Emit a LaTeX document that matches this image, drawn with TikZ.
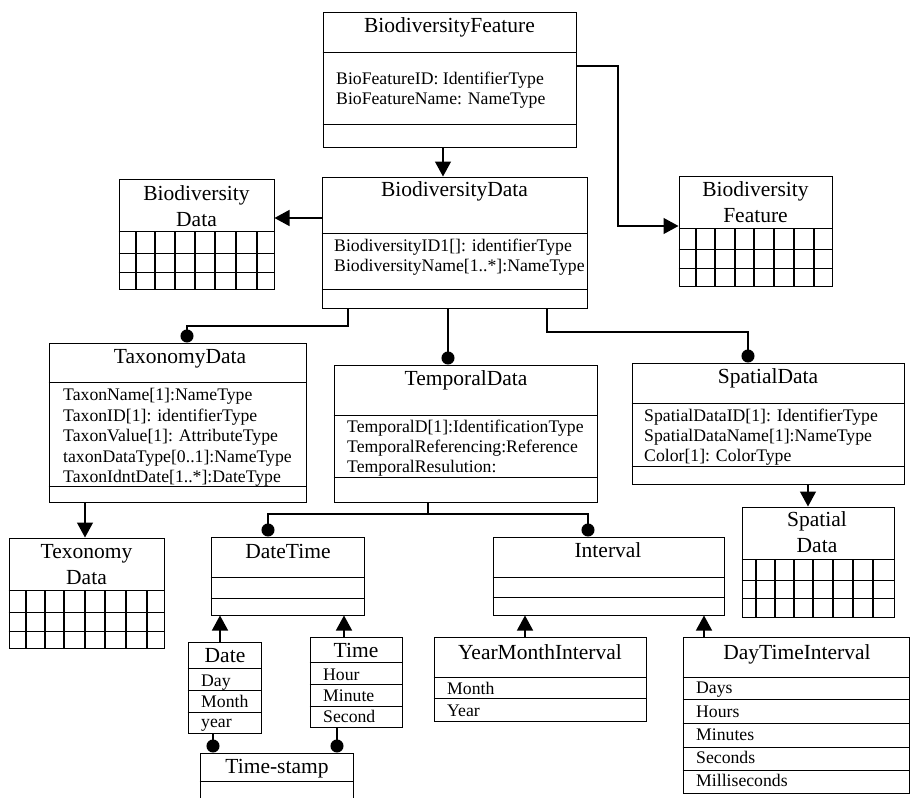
\documentclass[tikz,border=0pt]{standalone}
\usepackage{fontspec}
\setmainfont{Liberation Serif}
\usetikzlibrary{arrows.meta, fit}

\tikzset{
  cls/.style={draw, line width=1pt, inner sep=0pt},
  clsname/.style={font=\fontsize{21.5}{26}\selectfont, anchor=base, inner sep=0pt, align=center},
  clsattr/.style={font=\fontsize{17.7}{20.5}\selectfont, anchor=base west, inner sep=0pt},
  divline/.style={line width=1pt},
  tabline/.style={line width=1.6pt},
  arr/.style={line width=1.3pt, -{Triangle[length=15pt,width=16pt]}},
  dot/.style={line width=1.3pt, -{Circle[length=13pt]}}
}

\begin{document}
\begin{tikzpicture}[x=1pt, y=-1pt]
\useasboundingbox (0,0) rectangle (911,798);
\clip (0,0) rectangle (911,798);

% class boxes
\node[cls, fit={(323,12) (576,147)}] (bf) {};
\node[cls, fit={(322,177) (587,308)}] (bd) {};
\node[cls, fit={(49,343) (306,502)}] (tax) {};
\node[cls, fit={(334,365) (597,502)}] (temp) {};
\node[cls, fit={(632,363) (904,484)}] (spat) {};
\node[cls, fit={(211,537) (364,615)}] (dt) {};
\node[cls, fit={(493,537) (724,615)}] (iv) {};
\node[cls, fit={(188,642) (261,733)}] (date) {};
\node[cls, fit={(310,637) (402,727)}] (time) {};
\node[cls, fit={(200,753) (353,812)}] (ts) {};
\node[cls, fit={(434,637) (646,721)}] (ym) {};
\node[cls, fit={(683,637) (909,793)}] (dti) {};
\foreach \y in {52,124} \draw[divline] (bf.west |- 0,\y) -- (bf.east |- 0,\y);
\foreach \y in {233,289} \draw[divline] (bd.west |- 0,\y) -- (bd.east |- 0,\y);
\foreach \y in {382,486} \draw[divline] (tax.west |- 0,\y) -- (tax.east |- 0,\y);
\foreach \y in {415,477} \draw[divline] (temp.west |- 0,\y) -- (temp.east |- 0,\y);
\foreach \y in {403,466} \draw[divline] (spat.west |- 0,\y) -- (spat.east |- 0,\y);
\foreach \y in {577,598} \draw[divline] (dt.west |- 0,\y) -- (dt.east |- 0,\y);
\foreach \y in {577,597} \draw[divline] (iv.west |- 0,\y) -- (iv.east |- 0,\y);
\foreach \y in {668,690,712} \draw[divline] (date.west |- 0,\y) -- (date.east |- 0,\y);
\foreach \y in {662,684,706} \draw[divline] (time.west |- 0,\y) -- (time.east |- 0,\y);
\draw[divline] (ts.west |- 0,781) -- (ts.east |- 0,781);
\foreach \y in {677,698} \draw[divline] (ym.west |- 0,\y) -- (ym.east |- 0,\y);
\foreach \y in {677,699,723,747,770} \draw[divline] (dti.west |- 0,\y) -- (dti.east |- 0,\y);

% tables
\node[cls, fit={(119,179) (274,289)}] (bdtab) {};
\node[cls, fit={(679,176) (832,286)}] (bftab) {};
\node[cls, fit={(9,538) (164,648)}] (texo) {};
\node[cls, fit={(742,507) (894,617)}] (spattab) {};
\foreach \y in {231,253,272} \draw[divline] (bdtab.west |- 0,\y) -- (bdtab.east |- 0,\y);
\foreach \x in {136,155,175,195,215,236,257} \draw[tabline] (\x,231) -- (\x,0 |- bdtab.south);
\foreach \y in {228,249,268} \draw[divline] (bftab.west |- 0,\y) -- (bftab.east |- 0,\y);
\foreach \x in {696,715,735,754,774,794,814} \draw[tabline] (\x,228) -- (\x,0 |- bftab.south);
\foreach \y in {590,612,631} \draw[divline] (texo.west |- 0,\y) -- (texo.east |- 0,\y);
\foreach \x in {26,45,64,85,105,126,147} \draw[tabline] (\x,590) -- (\x,0 |- texo.south);
\foreach \y in {559,580,598} \draw[divline] (spattab.west |- 0,\y) -- (spattab.east |- 0,\y);
\foreach \x in {756,775,794,813,833,853,873} \draw[tabline] (\x,559) -- (\x,0 |- spattab.south);

% texts
\node[clsname] (bfname) at (449.5,32) {BiodiversityFeature};
\node[clsattr] (bfid) at (336,84) {BioFeatureID: IdentifierType};
\node[clsattr] (bfnm) at (336,104) {BioFeatureName: NameType};
\node[clsname] (bdname) at (454.5,196) {BiodiversityData};
\node[clsattr] (bdid) at (334,251) {BiodiversityID1[]: identifierType};
\node[clsattr] (bdnm) at (334,271) {BiodiversityName[1..*]:NameType};
\node[clsname] (bdtabname) at (196.5,226) {Biodiversity\\Data};
\node[clsname] (bftabname) at (755.5,222) {Biodiversity\\Feature};
\node[clsname] (taxname) at (180,363) {TaxonomyData};
\node[clsattr] (tax1) at (63,400) {TaxonName[1]:NameType};
\node[clsattr] (tax2) at (63,421) {TaxonID[1]: identifierType};
\node[clsattr] (tax3) at (63,441) {TaxonValue[1]: AttributeType};
\node[clsattr] (tax4) at (63,462) {taxonDataType[0..1]:NameType};
\node[clsattr] (tax5) at (63,482) {TaxonIdntDate[1..*]:DateType};
\node[clsname] (tempname) at (466,385) {TemporalData};
\node[clsattr] (temp1) at (347,432) {TemporalD[1]:IdentificationType};
\node[clsattr] (temp2) at (347,452) {TemporalReferencing:Reference};
\node[clsattr] (temp3) at (347,472) {TemporalResulution:};
\node[clsname] (spatname) at (768,383) {SpatialData};
\node[clsattr] (spat1) at (644,421) {SpatialDataID[1]: IdentifierType};
\node[clsattr] (spat2) at (644,441) {SpatialDataName[1]:NameType};
\node[clsattr] (spat3) at (644,461) {Color[1]: ColorType};
\node[clsname] (texoname) at (86.5,584) {Texonomy\\Data};
\node[clsname] (spattabname) at (817,552) {Spatial\\Data};
\node[clsname] (dtname) at (288,558) {DateTime};
\node[clsname] (ivname) at (608,557) {Interval};
\node[clsname] (datename) at (225,662) {Date};
\node[clsattr] (date1) at (201,686) {Day};
\node[clsattr] (date2) at (201,707) {Month};
\node[clsattr] (date3) at (201,727) {year};
\node[clsname] (timename) at (356,657) {Time};
\node[clsattr] (time1) at (323,680) {Hour};
\node[clsattr] (time2) at (323,701) {Minute};
\node[clsattr] (time3) at (323,722) {Second};
\node[clsname] (tsname) at (277,773) {Time-stamp};
\node[clsname] (ymname) at (540,659) {YearMonthInterval};
\node[clsattr] (ym1) at (447,694) {Month};
\node[clsattr] (ym2) at (447,716) {Year};
\node[clsname] (dtiname) at (797,659) {DayTimeInterval};
\node[clsattr] (dti1) at (696,693) {Days};
\node[clsattr] (dti2) at (696,717) {Hours};
\node[clsattr] (dti3) at (696,740) {Minutes};
\node[clsattr] (dti4) at (696,763) {Seconds};
\node[clsattr] (dti5) at (696,786) {Milliseconds};

% connectors
\draw[arr] (bf.south -| 443,0) -- (bd.north -| 443,0);
\draw[arr] (bd.west |- 0,218) -- (bdtab.east |- 0,218);
\draw[arr] (bf.east |- 0,66) -| (618,140) |- (bftab.west |- 0,226);
\draw[dot] (bd.south -| 348,0) |- (187,326) -- (tax.north -| 187,0);
\draw[dot] (bd.south -| 448,0) -- (temp.north -| 448,0);
\draw[dot] (bd.south -| 547,0) |- (748,332) -- (spat.north -| 748,0);
\draw[arr] (tax.south -| 85,0) -- (texo.north -| 85,0);
\draw[arr] (spat.south -| 808,0) -- (spattab.north -| 808,0);
\draw[dot] (temp.south -| 428,0) |- (268,514) -- (dt.north -| 268,0);
\draw[dot] (temp.south -| 428,0) |- (588,514) -- (iv.north -| 588,0);
\draw[arr] (date.north -| 220,0) -- (dt.south -| 220,0);
\draw[arr] (time.north -| 344,0) -- (dt.south -| 344,0);
\draw[dot] (date.south -| 213,0) -- (ts.north -| 213,0);
\draw[dot] (time.south -| 337,0) -- (ts.north -| 337,0);
\draw[arr] (ym.north -| 525,0) -- (iv.south -| 525,0);
\draw[arr] (dti.north -| 704,0) -- (iv.south -| 704,0);
\end{tikzpicture}
\end{document}
